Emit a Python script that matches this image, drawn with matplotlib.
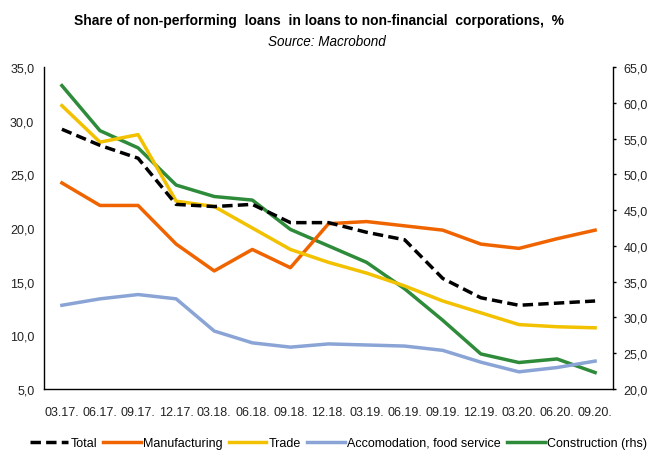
import matplotlib
matplotlib.use("Agg")
import matplotlib.pyplot as plt
from matplotlib.lines import Line2D

plt.rcParams['font.family'] = ['Liberation Sans', 'DejaVu Sans']

quarters = ["03.17.", "06.17.", "09.17.", "12.17.", "03.18.", "06.18.", "09.18.", "12.18.",
            "03.19.", "06.19.", "09.19.", "12.19.", "03.20.", "06.20.", "09.20."]
total = [29.2, 27.7, 26.5, 22.2, 22.0, 22.2, 20.5, 20.5, 19.6, 18.9, 15.3, 13.5, 12.8, 13.0, 13.2]
manufacturing = [24.2, 22.1, 22.1, 18.5, 16.0, 18.0, 16.3, 20.4, 20.6, 20.2, 19.8, 18.5, 18.1, 19.0, 19.8]
trade = [31.4, 28.0, 28.7, 22.5, 22.0, 20.0, 18.0, 16.8, 15.8, 14.6, 13.2, 12.1, 11.0, 10.8, 10.7]
accommodation = [12.8, 13.4, 13.8, 13.4, 10.4, 9.3, 8.9, 9.2, 9.1, 9.0, 8.6, 7.5, 6.6, 7.0, 7.6]
construction = [62.4, 56.1, 53.7, 48.5, 46.9, 46.4, 42.3, 40.0, 37.7, 34.0, 29.6, 24.9, 23.7, 24.2, 22.3]

left_ticks = [5, 10, 15, 20, 25, 30, 35]
right_ticks = [20, 25, 30, 35, 40, 45, 50, 55, 60, 65]

c_total = "black"
c_man = "#F06400"
c_trade = "#F2C100"
c_acc = "#8AA4D6"
c_con = "#2E8B3A"
lw = 2.5
dash = (0, (3, 1.5))

fig = plt.figure(figsize=(6.49, 4.52), dpi=100)
ax = fig.add_axes([44 / 649, 1 - 390 / 452, (613 - 44) / 649, (390 - 68) / 452])
ax2 = ax.twinx()

x = list(range(len(quarters)))
ax.plot(x, manufacturing, color=c_man, lw=lw)
ax.plot(x, trade, color=c_trade, lw=lw)
ax.plot(x, accommodation, color=c_acc, lw=lw)
ax2.plot(x, construction, color=c_con, lw=lw)
ax.plot(x, total, color=c_total, lw=lw, ls=dash)
ax.set_zorder(ax2.get_zorder() + 1)
ax.patch.set_visible(False)

ax.set_xlim(-0.47, len(quarters) - 1 + 0.47)
ax.set_ylim(5, 35)
ax2.set_ylim(20, 65)
ax.set_yticks(left_ticks)
ax.set_yticklabels([f"{v:.1f}".replace('.', ',') for v in left_ticks])
ax2.set_yticks(right_ticks)
ax2.set_yticklabels([f"{v:.1f}".replace('.', ',') for v in right_ticks])
ax.set_xticks(x)
ax.set_xticklabels(quarters)

for a in (ax, ax2):
    a.spines['top'].set_visible(False)
    for s in a.spines.values():
        s.set_linewidth(1.0)
ax.spines['right'].set_visible(False)
ax2.spines['left'].set_visible(False)
ax2.spines['bottom'].set_visible(False)

ax.tick_params(axis='y', length=0, pad=7, labelsize=9, labelcolor='#222222')
ax.tick_params(axis='x', length=0, pad=12, labelsize=9, labelcolor='#222222')
ax2.tick_params(axis='y', length=2.5, width=1, pad=5, labelsize=9, labelcolor='#222222', color='black')

fig.text(0.4915, 1 - 21 / 452, "Share of non-performing  loans  in loans to non-financial  corporations,  %",
         ha='center', va='center', fontsize=10, fontweight='bold')
fig.text(0.504, 1 - 42 / 452, "Source: Macrobond", ha='center', va='center', fontsize=9.75, style='italic')

handles = [
    Line2D([], [], color=c_total, lw=lw, ls=dash),
    Line2D([], [], color=c_man, lw=lw),
    Line2D([], [], color=c_trade, lw=lw),
    Line2D([], [], color=c_acc, lw=lw),
    Line2D([], [], color=c_con, lw=lw),
]
labels = ["Total", "Manufacturing", "Trade", "Accomodation, food service", "Construction (rhs)"]
fig.legend(handles, labels, loc='center', bbox_to_anchor=(0.522, 1 - 444 / 452), ncol=5,
           frameon=False, fontsize=9, handlelength=3.0, handletextpad=0.2, columnspacing=0.5,
           borderpad=0, borderaxespad=0)

fig.savefig("out.png", dpi=100)
